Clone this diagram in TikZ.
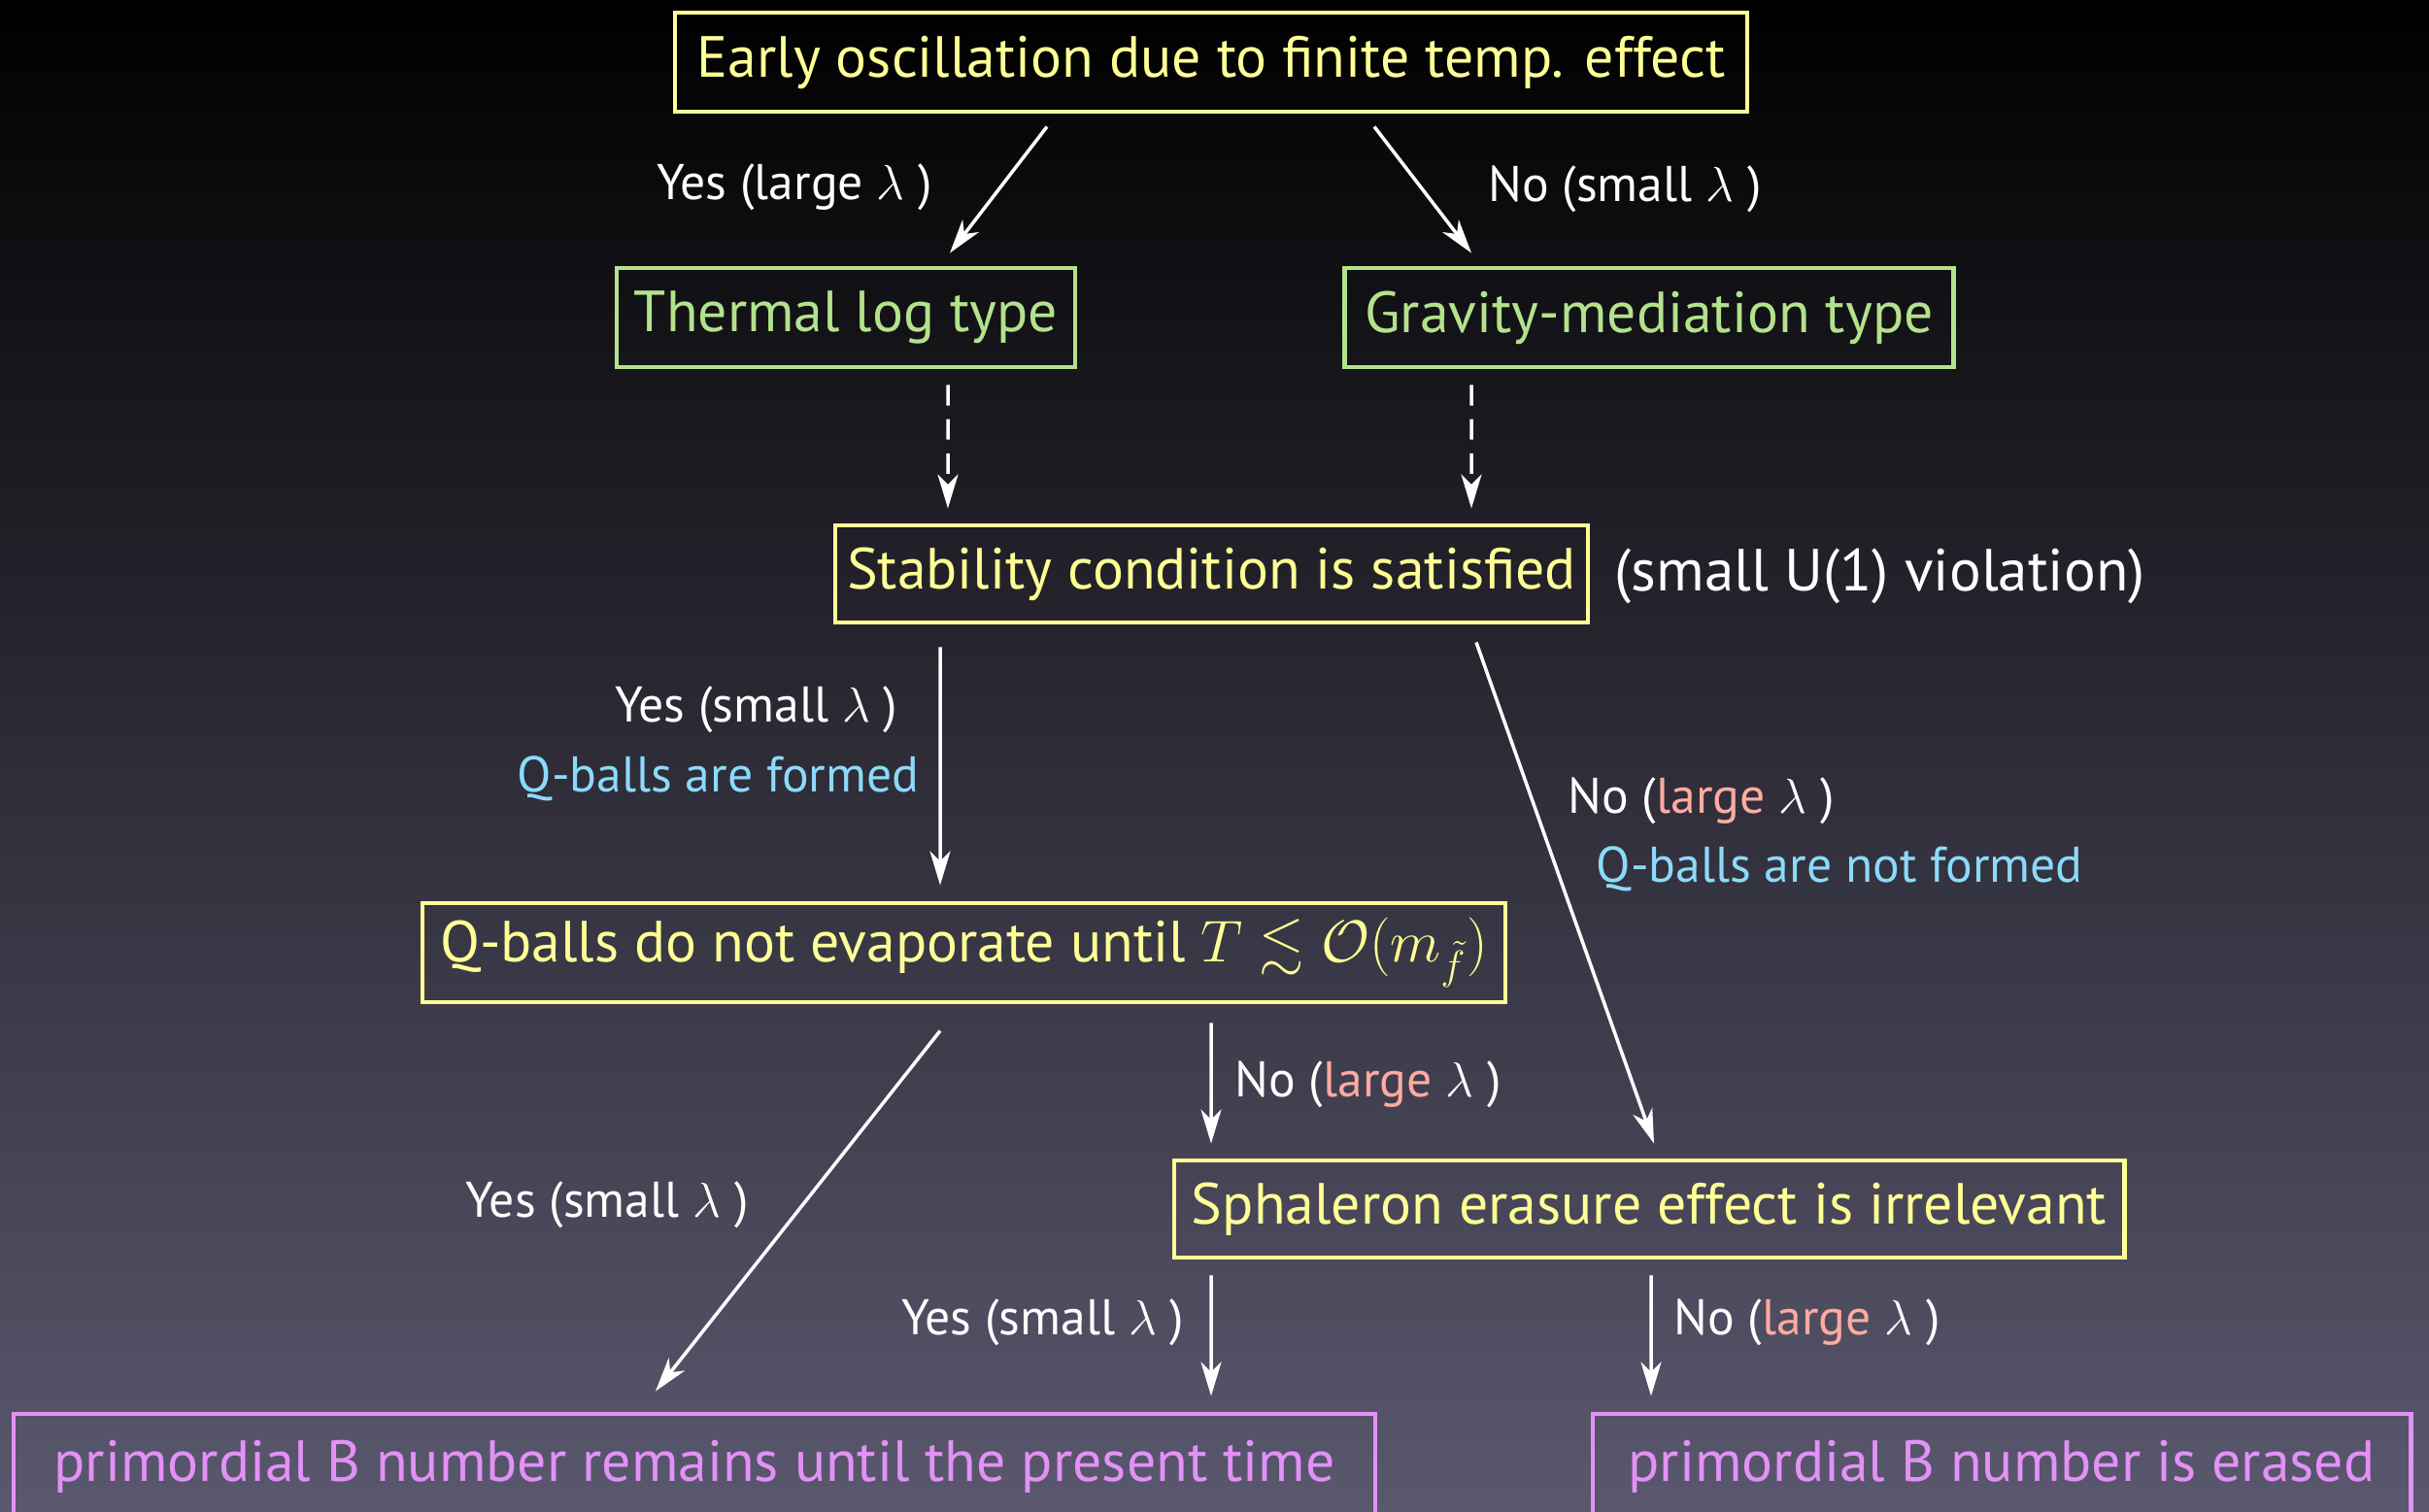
\documentclass[tikz,border=0pt]{standalone}
\usepackage{amsmath,amssymb}
\usepackage{fontspec}
\setmainfont{PT Sans}
\usetikzlibrary{arrows.meta}

\definecolor{boxyellow}{RGB}{255,255,150}
\definecolor{boxgreen}{RGB}{180,226,140}
\definecolor{boxpink}{RGB}{226,145,246}
\definecolor{qcyan}{RGB}{140,218,250}
\definecolor{lsalmon}{RGB}{255,170,160}
\definecolor{bgmid}{RGB}{26,26,52}
\definecolor{bgbot}{RGB}{90,88,110}

\tikzset{
  statebox/.style={draw=#1,text=#1,line width=1.4pt,inner sep=0pt,
    minimum height=1.02cm,font=\fontsize{17}{20}\selectfont},
  flow/.style={white,line width=1pt,-{Stealth[length=10pt,width=6pt,inset=3pt]}},
  dflow/.style={flow,dash pattern=on 6pt off 4pt},
  answer/.style={white,inner sep=0pt,font=\fontsize{14.7}{17}\selectfont},
}

\begin{document}
\begin{tikzpicture}
  % background
  \useasboundingbox (0,0) rectangle (25.01,-15.56);
  \shade[top color=black,middle color=bgmid,bottom color=bgbot] (0,0) rectangle (25.01,-15.56);

  % boxes
  \node[statebox=boxyellow,minimum width=11.04cm] (early) at (12.47,-0.64) {Early oscillation due to finite temp. effect};
  \node[statebox=boxgreen,minimum width=4.72cm] (thermal) at (8.71,-3.27) {Thermal log type};
  \node[statebox=boxgreen,minimum width=6.27cm] (gravity) at (16.98,-3.27) {Gravity-mediation type};
  \node[statebox=boxyellow,minimum width=7.75cm,minimum height=1.0cm] (stab) at (12.475,-5.91) {Stability condition is satisfied};
  \node[answer,anchor=west,font=\fontsize{17.4}{20}\selectfont] (viol) at (16.62,-5.93) {(small U(1) violation)};
  \node[statebox=boxyellow,minimum width=11.15cm] (noevap) at (9.925,-9.81) {Q-balls do not evaporate until $T\lesssim\mathcal{O}(m_{\tilde f})$};
  \node[statebox=boxyellow,minimum width=9.78cm,minimum height=1.0cm] (sphal) at (16.98,-12.45) {Sphaleron erasure effect is irrelevant};
  \node[statebox=boxpink,minimum width=14.02cm,minimum height=1.08cm] (remain) at (7.15,-15.10) {primordial B number remains until the present time};
  \node[statebox=boxpink,minimum width=8.42cm,minimum height=1.08cm] (erased) at (20.61,-15.10) {primordial B number is erased};

  % connectors
  \draw[flow] ([xshift=-1.69cm,yshift=-0.13cm]early.south) -- ([xshift=1.07cm,yshift=0.13cm]thermal.north);
  \draw[flow] ([xshift=1.68cm,yshift=-0.13cm]early.south) -- ([xshift=-1.83cm,yshift=0.13cm]gravity.north);
  \draw[dflow] ([xshift=1.05cm,yshift=-0.16cm]thermal.south) -- ([xshift=-2.715cm,yshift=0.15cm]stab.north);
  \draw[dflow] ([xshift=-1.83cm,yshift=-0.16cm]gravity.south) -- ([xshift=2.675cm,yshift=0.15cm]stab.north);
  \draw[flow] ([xshift=-2.795cm,yshift=-0.23cm]stab.south) -- ([xshift=-0.245cm,yshift=0.16cm]noevap.north);
  \draw[flow] ([xshift=2.725cm,yshift=-0.18cm]stab.south) -- ([xshift=0.05cm,yshift=0.15cm]sphal.north);
  \draw[flow] ([xshift=-0.245cm,yshift=-0.27cm]noevap.south) -- ([xshift=-0.40cm,yshift=0.21cm]remain.north);
  \draw[flow] ([xshift=2.545cm,yshift=-0.19cm]noevap.south) -- ([xshift=-4.51cm,yshift=0.15cm]sphal.north);
  \draw[flow] ([xshift=-4.51cm,yshift=-0.16cm]sphal.south) -- ([xshift=5.32cm,yshift=0.16cm]remain.north);
  \draw[flow] ([xshift=0.02cm,yshift=-0.16cm]sphal.south) -- ([xshift=-3.61cm,yshift=0.16cm]erased.north);

  % answers
  \node[answer] (yes1) at (8.18,-1.93) {Yes (large $\lambda$ )};
  \node[answer] (no1) at (16.73,-1.95) {No (small $\lambda$ )};
  \node[answer,anchor=east] (yes2) at (9.25,-7.31) {Yes (small $\lambda$ )};
  \node[answer,anchor=east,text=qcyan] (formed) at (9.47,-8.02) {Q-balls are formed};
  \node[answer,anchor=west] (no2) at (16.14,-8.25) {No (\textcolor{lsalmon}{large} $\lambda$ )};
  \node[answer,anchor=west,text=qcyan] (notformed) at (16.43,-8.95) {Q-balls are not formed};
  \node[answer] (yes3) at (6.25,-12.41) {Yes (small $\lambda$ )};
  \node[answer,anchor=west] (no3) at (12.71,-11.17) {No (\textcolor{lsalmon}{large} $\lambda$ )};
  \node[answer,anchor=east] (yes4) at (12.20,-13.62) {Yes (small $\lambda$ )};
  \node[answer,anchor=west] (no4) at (17.23,-13.62) {No (\textcolor{lsalmon}{large} $\lambda$ )};
\end{tikzpicture}
\end{document}
